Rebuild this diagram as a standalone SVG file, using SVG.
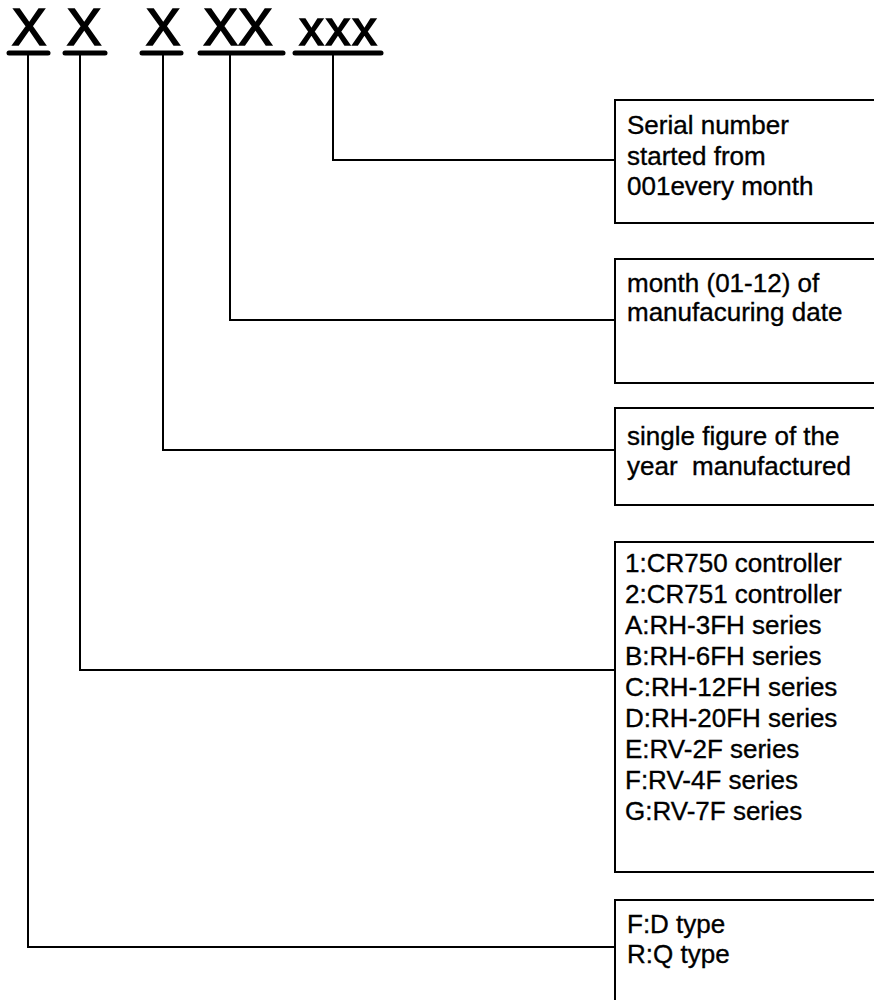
<svg xmlns="http://www.w3.org/2000/svg" width="874" height="1000" viewBox="0 0 874 1000">
  <style>
    .code { font-family: "Liberation Sans", Arial, sans-serif; font-size: 52px; fill: #000; stroke: #000; stroke-width: 1.6; text-anchor: middle; }
    .small { font-size: 49px; letter-spacing: 2px; }
    .ul { stroke: #000; stroke-width: 5; stroke-linecap: round; fill: none; }
    .box { fill: #fff; stroke: #000; stroke-width: 2; }
    .lbl { font-family: "Liberation Sans", Arial, sans-serif; font-size: 26px; fill: #000; stroke: #000; stroke-width: 0.35; }
    .wire { stroke: #000; stroke-width: 2; fill: none; }
  </style>
  <rect width="874" height="1000" fill="#fff"/>

  <g id="code">
    <text class="code" x="29" y="45">X</text>
    <text class="code" x="84" y="45">X</text>
    <text class="code" x="163" y="45">X</text>
    <text class="code" x="238" y="45">XX</text>
    <text class="code small" x="339" y="45">xxx</text>
    <line class="ul" x1="9" y1="53" x2="48" y2="53"/>
    <line class="ul" x1="65" y1="53" x2="105" y2="53"/>
    <line class="ul" x1="142" y1="53" x2="181" y2="53"/>
    <line class="ul" x1="200" y1="53" x2="283" y2="53"/>
    <line class="ul" x1="295" y1="53" x2="381" y2="53"/>
  </g>

  <g id="connectors">
    <polyline class="wire" points="333,55 333,160 616,160"/>
    <polyline class="wire" points="230,55 230,320 616,320"/>
    <polyline class="wire" points="163,55 163,450 616,450"/>
    <polyline class="wire" points="80,55 80,670 616,670"/>
    <polyline class="wire" points="28,55 28,947 616,947"/>
  </g>

  <g id="box-serial">
    <rect class="box" x="615" y="100" width="270" height="123"/>
    <text class="lbl" x="627" y="134">Serial number</text>
    <text class="lbl" x="627" y="165">started from</text>
    <text class="lbl" x="627" y="195">001every month</text>
  </g>

  <g id="box-month">
    <rect class="box" x="615" y="259" width="270" height="124"/>
    <text class="lbl" x="627" y="292">month (01-12) of</text>
    <text class="lbl" x="627" y="321">manufacuring date</text>
  </g>

  <g id="box-year">
    <rect class="box" x="615" y="408" width="270" height="97"/>
    <text class="lbl" x="627" y="445">single figure of the</text>
    <text class="lbl" x="627" y="475">year&#160; manufactured</text>
  </g>

  <g id="box-model">
    <rect class="box" x="615" y="542" width="270" height="330"/>
    <text class="lbl" x="625" y="572">1:CR750 controller</text>
    <text class="lbl" x="625" y="603">2:CR751 controller</text>
    <text class="lbl" x="625" y="634">A:RH-3FH series</text>
    <text class="lbl" x="625" y="665">B:RH-6FH series</text>
    <text class="lbl" x="625" y="696">C:RH-12FH series</text>
    <text class="lbl" x="625" y="727">D:RH-20FH series</text>
    <text class="lbl" x="625" y="758">E:RV-2F series</text>
    <text class="lbl" x="625" y="789">F:RV-4F series</text>
    <text class="lbl" x="625" y="820">G:RV-7F series</text>
  </g>

  <g id="box-type">
    <rect class="box" x="615" y="900" width="270" height="120"/>
    <text class="lbl" x="627" y="933">F:D type</text>
    <text class="lbl" x="627" y="963">R:Q type</text>
  </g>
</svg>
